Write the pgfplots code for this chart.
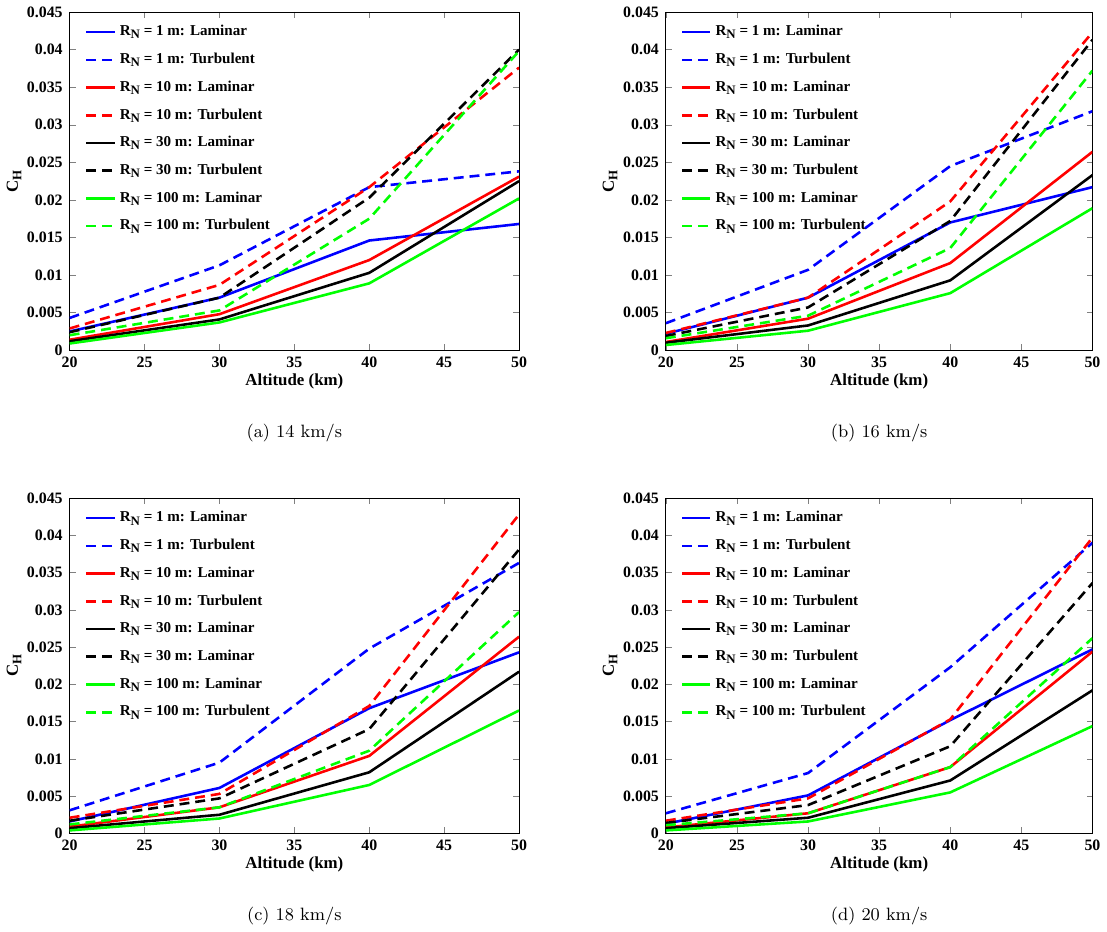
\documentclass[border=0pt]{standalone}
\usepackage{pgfplots}
\pgfplotsset{compat=1.18}
\usetikzlibrary{calc}
\usepackage{fontspec}
\newfontfamily\tnr{Liberation Serif}
\definecolor{mblue}{RGB}{0,0,255}
\definecolor{mred}{RGB}{255,0,0}
\definecolor{mgreen}{RGB}{0,255,0}
\newcommand{\RN}{R\raisebox{-0.45ex}{\fontsize{6.5}{7}\selectfont N}}
\pgfplotsset{
  mystyle/.style={
    scale only axis, xmin=20, xmax=50, ymin=0, ymax=0.045,
    xtick={20,25,...,50}, ytick={0,0.005,...,0.045},
    scaled y ticks=false,
    yticklabel style={/pgf/number format/fixed,/pgf/number format/precision=3},
    /pgf/number format/assume math mode=true,
    tick label style={font=\tnr\bfseries\fontsize{8}{9}\selectfont},
    label style={font=\tnr\bfseries\fontsize{8.5}{10}\selectfont},
    tick align=inside, major tick length=3pt,
    xlabel={Altitude (km)}, ylabel={C\raisebox{-0.45ex}{\fontsize{6.5}{7}\selectfont H}},
    xlabel style={yshift=4pt}, ylabel style={yshift=-4pt},
    legend style={at={(0.02,0.985)}, anchor=north west, draw=none, fill=none,
      font=\tnr\bfseries\fontsize{7.6}{8}\selectfont, row sep=3.2pt},
    legend cell align=left,
    every axis plot/.append style={line width=1.3pt},
    legend image code/.code={\draw[#1] (0cm,0cm) -- (0.5cm,0cm);},
  },
  lam/.style={solid},
  tur/.style={dash pattern=on 5pt off 3pt},
}
\begin{document}
\begin{tikzpicture}
% (a)
\begin{axis}[mystyle, name=A, at={(31pt,290.5pt)}, width=226.5pt, height=170.5pt]
\addplot[mblue,lam] coordinates {(20,0.0025)(30,0.0070)(40,0.0146)(50,0.0168)};
\addplot[mblue,tur] coordinates {(20,0.0043)(30,0.0113)(40,0.0217)(50,0.0238)};
\addplot[mred,lam] coordinates {(20,0.0014)(30,0.0048)(40,0.0120)(50,0.0231)};
\addplot[mred,tur] coordinates {(20,0.0029)(30,0.0087)(40,0.0217)(50,0.0376)};
\addplot[black,lam] coordinates {(20,0.0012)(30,0.0041)(40,0.0103)(50,0.0225)};
\addplot[black,tur] coordinates {(20,0.0024)(30,0.0070)(40,0.0203)(50,0.0400)};
\addplot[mgreen,lam] coordinates {(20,0.0009)(30,0.0037)(40,0.0089)(50,0.0202)};
\addplot[mgreen,tur] coordinates {(20,0.0020)(30,0.0053)(40,0.0175)(50,0.0398)};
\legend{\RN{} = 1 m: Laminar,\RN{} = 1 m: Turbulent,\RN{} = 10 m: Laminar,\RN{} = 10 m: Turbulent,\RN{} = 30 m: Laminar,\RN{} = 30 m: Turbulent,\RN{} = 100 m: Laminar,\RN{} = 100 m: Turbulent}
\end{axis}
% (b)
\begin{axis}[mystyle, name=B, at={(331.5pt,290.5pt)}, width=215pt, height=170.5pt]
\addplot[mblue,lam] coordinates {(20,0.0022)(30,0.0070)(40,0.0170)(50,0.0217)};
\addplot[mblue,tur] coordinates {(20,0.0036)(30,0.0107)(40,0.0245)(50,0.0318)};
\addplot[mred,lam] coordinates {(20,0.0011)(30,0.0042)(40,0.0116)(50,0.0264)};
\addplot[mred,tur] coordinates {(20,0.0023)(30,0.0070)(40,0.0198)(50,0.0423)};
\addplot[black,lam] coordinates {(20,0.0010)(30,0.0033)(40,0.0093)(50,0.0233)};
\addplot[black,tur] coordinates {(20,0.0019)(30,0.0057)(40,0.0172)(50,0.0413)};
\addplot[mgreen,lam] coordinates {(20,0.0007)(30,0.0026)(40,0.0076)(50,0.0189)};
\addplot[mgreen,tur] coordinates {(20,0.0016)(30,0.0046)(40,0.0136)(50,0.0372)};
\legend{\RN{} = 1 m: Laminar,\RN{} = 1 m: Turbulent,\RN{} = 10 m: Laminar,\RN{} = 10 m: Turbulent,\RN{} = 30 m: Laminar,\RN{} = 30 m: Turbulent,\RN{} = 100 m: Laminar,\RN{} = 100 m: Turbulent}
\end{axis}
% (c)
\begin{axis}[mystyle, name=C, at={(31pt,47pt)}, width=226.5pt, height=169pt]
\addplot[mblue,lam] coordinates {(20,0.0016)(30,0.0061)(40,0.0168)(50,0.0243)};
\addplot[mblue,tur] coordinates {(20,0.0031)(30,0.0095)(40,0.0248)(50,0.0363)};
\addplot[mred,lam] coordinates {(20,0.0009)(30,0.0035)(40,0.0104)(50,0.0264)};
\addplot[mred,tur] coordinates {(20,0.0021)(30,0.0053)(40,0.0171)(50,0.0428)};
\addplot[black,lam] coordinates {(20,0.0007)(30,0.0025)(40,0.0082)(50,0.0217)};
\addplot[black,tur] coordinates {(20,0.0017)(30,0.0047)(40,0.0140)(50,0.0381)};
\addplot[mgreen,lam] coordinates {(20,0.0004)(30,0.0020)(40,0.0065)(50,0.0165)};
\addplot[mgreen,tur] coordinates {(20,0.0012)(30,0.0035)(40,0.0111)(50,0.0297)};
\legend{\RN{} = 1 m: Laminar,\RN{} = 1 m: Turbulent,\RN{} = 10 m: Laminar,\RN{} = 10 m: Turbulent,\RN{} = 30 m: Laminar,\RN{} = 30 m: Laminar,\RN{} = 100 m: Laminar,\RN{} = 100 m: Turbulent}
\end{axis}
% (d)
\begin{axis}[mystyle, name=D, at={(331.5pt,47pt)}, width=215pt, height=169pt]
\addplot[mblue,lam] coordinates {(20,0.0013)(30,0.0051)(40,0.0152)(50,0.0247)};
\addplot[mblue,tur] coordinates {(20,0.0027)(30,0.0081)(40,0.0223)(50,0.0390)};
\addplot[mred,lam] coordinates {(20,0.0008)(30,0.0027)(40,0.0089)(50,0.0244)};
\addplot[mred,tur] coordinates {(20,0.0017)(30,0.0047)(40,0.0153)(50,0.0397)};
\addplot[black,lam] coordinates {(20,0.0007)(30,0.0021)(40,0.0071)(50,0.0192)};
\addplot[black,tur] coordinates {(20,0.0014)(30,0.0038)(40,0.0117)(50,0.0336)};
\addplot[mgreen,lam] coordinates {(20,0.0004)(30,0.0016)(40,0.0055)(50,0.0144)};
\addplot[mgreen,tur] coordinates {(20,0.0011)(30,0.0027)(40,0.0089)(50,0.0262)};
\legend{\RN{} = 1 m: Laminar,\RN{} = 1 m: Turbulent,\RN{} = 10 m: Laminar,\RN{} = 10 m: Turbulent,\RN{} = 30 m: Laminar,\RN{} = 30 m: Turbulent,\RN{} = 100 m: Laminar,\RN{} = 100 m: Turbulent}
\end{axis}
\node[font=\fontsize{9}{10}\selectfont] at ($(A.south west)!0.5!(A.south east)+(0,-41.5pt)$) {(a) 14 km/s};
\node[font=\fontsize{9}{10}\selectfont] at ($(B.south west)!0.5!(B.south east)+(0,-41.5pt)$) {(b) 16 km/s};
\node[font=\fontsize{9}{10}\selectfont] at ($(C.south west)!0.5!(C.south east)+(0,-41.5pt)$) {(c) 18 km/s};
\node[font=\fontsize{9}{10}\selectfont] at ($(D.south west)!0.5!(D.south east)+(0,-41.5pt)$) {(d) 20 km/s};
\end{tikzpicture}
\end{document}
